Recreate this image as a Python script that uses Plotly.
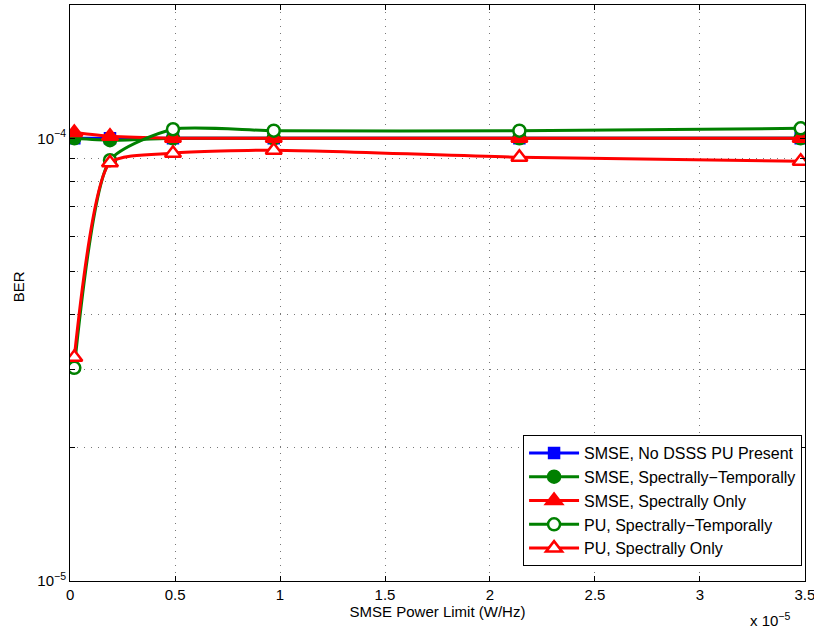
import plotly.graph_objects as go

# x values in units of 1e-5 W/Hz
power_limit = [0.02, 0.19, 0.49, 0.97, 2.14, 3.48]

smse_no_pu = [1.0e-4, 1.0e-4, 1.0e-4, 1.0e-4, 1.0e-4, 1.0e-4]
smse_spec_temp = [1.0e-4, 0.99e-4, 1.0e-4, 1.0e-4, 1.0e-4, 1.0e-4]
smse_spec_only = [1.03e-4, 1.01e-4, 1.0e-4, 1.0e-4, 1.0e-4, 1.0e-4]
pu_spec_temp = [3.03e-5, 0.892e-4, 1.048e-4, 1.04e-4, 1.04e-4, 1.053e-4]
pu_spec_only = [3.2e-5, 0.88e-4, 0.925e-4, 0.94e-4, 0.906e-4, 0.887e-4]

x_ticks = [0, 0.5, 1, 1.5, 2, 2.5, 3, 3.5]
y_ticks = [1e-5, 2e-5, 3e-5, 4e-5, 5e-5, 6e-5, 7e-5, 8e-5, 9e-5, 1e-4, 2e-4]
y_tick_text = ["10<sup>−5</sup>", "", "", "", "", "", "", "", "", "10<sup>−4</sup>", ""]

BLUE = "rgb(0,0,255)"
GREEN = "rgb(0,128,0)"
RED = "rgb(255,0,0)"
FONT = "Liberation Sans, Arial, sans-serif"

series = [
    ("SMSE, No DSSS PU Present", smse_no_pu, BLUE, "square", BLUE, 10),
    ("SMSE, Spectrally−Temporally", smse_spec_temp, GREEN, "circle", GREEN, 12),
    ("SMSE, Spectrally Only", smse_spec_only, RED, "triangle-up", RED, 14),
    ("PU, Spectrally−Temporally", pu_spec_temp, GREEN, "circle", "white", 12),
    ("PU, Spectrally Only", pu_spec_only, RED, "triangle-up", "white", 14),
]

fig = go.Figure()
for name, vals, col, sym, fill, size in series:
    fig.add_trace(go.Scatter(
        x=power_limit, y=vals, name=name, mode="lines+markers",
        line=dict(color=col, width=3, shape="spline", smoothing=0.6),
        marker=dict(symbol=sym, size=size, color=fill,
                    line=dict(color=col, width=2.5)),
    ))

axis_common = dict(
    showline=True, linecolor="black", linewidth=1, mirror="allticks",
    ticks="inside", ticklen=5, tickcolor="black",
    showgrid=True, gridcolor="rgb(120,120,120)", griddash="1px,6px", gridwidth=1,
    zeroline=False, automargin=False, ticklabeloverflow="allow",
    tickfont=dict(family=FONT, size=15, color="black"),
)

fig.update_xaxes(
    range=[-0.0005, 3.5005], tickvals=x_ticks, ticktext=[f"{v:g}" for v in x_ticks],
    title=dict(text="SMSE Power Limit (W/Hz)", standoff=2,
               font=dict(family=FONT, size=15, color="black")),
    **axis_common,
)
fig.update_yaxes(
    type="log", range=[-5, -3.699], tickvals=y_ticks, ticktext=y_tick_text,
    **axis_common,
)

fig.add_annotation(
    text="BER", xref="paper", yref="paper", x=-0.0707, y=0.51,
    xanchor="center", yanchor="middle", textangle=-90, showarrow=False,
    font=dict(family=FONT, size=15, color="black"),
)
fig.add_annotation(
    text="x 10<sup>−5</sup>", xref="paper", yref="paper", x=0.982, y=-0.066,
    xanchor="right", yanchor="middle", showarrow=False,
    font=dict(family=FONT, size=15, color="black"),
)

fig.update_layout(
    width=814, height=630,
    margin=dict(l=70, r=9, t=5, b=49),
    paper_bgcolor="white", plot_bgcolor="white",
    font=dict(family=FONT, size=15, color="black"),
    legend=dict(
        x=0.996, y=0.026, xanchor="right", yanchor="bottom",
        bgcolor="white", bordercolor="black", borderwidth=1,
        font=dict(family=FONT, size=16, color="black"), itemwidth=50, tracegroupgap=0,
    ),
    showlegend=True,
)

fig.write_html("out.html", config={"displayModeBar": False},
               post_script="document.body.style.margin='0';document.body.style.padding='0';")
